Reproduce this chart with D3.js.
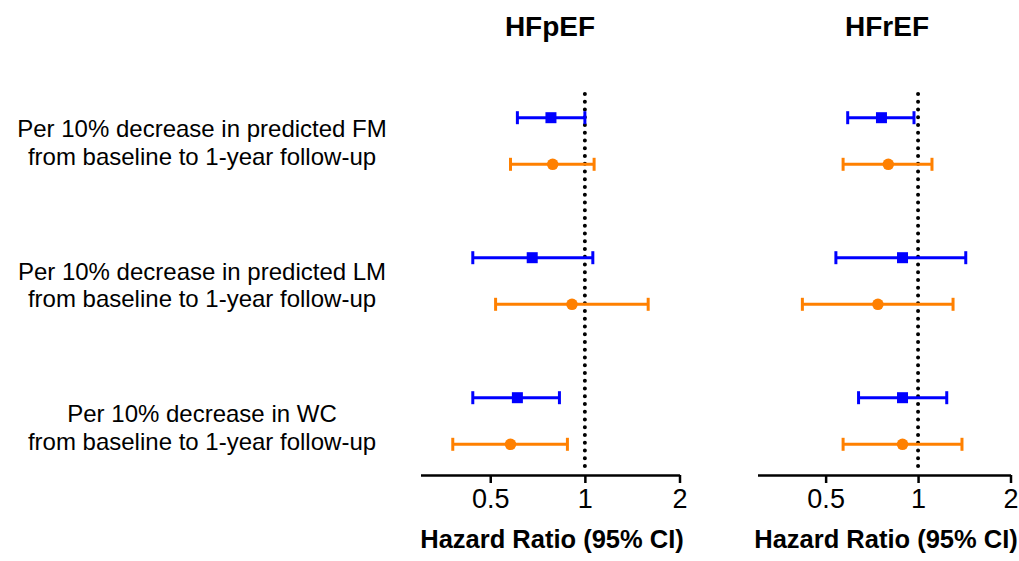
<!DOCTYPE html>
<html>
<head>
<meta charset="utf-8">
<script src="https://cdn.jsdelivr.net/npm/d3@7"></script>
<style>
  html, body { margin: 0; padding: 0; background: #fff; }
  svg { display: block; font-family: "Liberation Sans", Arial, Helvetica, sans-serif; }
</style>
</head>
<body>
<svg id="chart" width="1019" height="561"></svg>
<script>
// ---- data ----
const panels = ["HFpEF", "HFrEF"];
const rows = ["FM", "LM", "WC"];
const rowLabels = [
  ["Per 10% decrease in predicted FM", "from baseline to 1-year follow-up"],
  ["Per 10% decrease in predicted LM", "from baseline to 1-year follow-up"],
  ["Per 10% decrease in WC", "from baseline to 1-year follow-up"]
];
const series = ["blue", "orange"];
// HFpEF: [point, low, high] per row
const hfpefBlue   = [[0.78, 0.61, 1.00], [0.68, 0.44, 1.06], [0.61, 0.44, 0.83]];
const hfpefOrange = [[0.79, 0.58, 1.07], [0.91, 0.52, 1.59], [0.58, 0.38, 0.88]];
// HFrEF
const hfrefBlue   = [[0.76, 0.59, 0.97], [0.89, 0.54, 1.43], [0.89, 0.64, 1.24]];
const hfrefOrange = [[0.80, 0.57, 1.11], [0.74, 0.42, 1.30], [0.89, 0.57, 1.39]];
const tickValues = [0.5, 1, 2];
const tickLabels = ["0.5", "1", "2"];
const xDomain = [0.3, 2];
const refValue = 1;
const axisTitle = "Hazard Ratio (95% CI)";

// ---- layout ----
const svg = d3.select("#chart");
const colors = { blue: "#0000ff", orange: "#ff8000" };
const panelRanges = [[420.5, 679.5], [757.5, 1010.5]];
const axisY = 475;
const y = d3.scalePoint().domain(rows).range([141, 421]);
const sub = d3.scalePoint().domain(series).range([-23.3, 23.3]);
const labelY = d3.scalePoint().domain(rows).range([137, 422]);

// Row labels
rows.forEach((r, i) => {
  const t = svg.append("text")
    .attr("x", 202)
    .attr("text-anchor", "middle")
    .attr("font-size", 24)
    .attr("fill", "#000");
  rowLabels[i].forEach((line, j) => {
    t.append("tspan").attr("x", 202).attr("y", labelY(r) + j * 27.5).text(line);
  });
});

const panelData = [
  { blue: hfpefBlue, orange: hfpefOrange },
  { blue: hfrefBlue, orange: hfrefOrange }
];

panels.forEach((p, pi) => {
  const x = d3.scaleLog().domain(xDomain).range(panelRanges[pi]);
  const g = svg.append("g");

  // title
  g.append("text")
    .attr("x", (panelRanges[pi][0] + panelRanges[pi][1]) / 2 + (pi === 1 ? 3 : 0))
    .attr("y", 36)
    .attr("text-anchor", "middle")
    .attr("font-size", 28)
    .attr("font-weight", "bold")
    .text(p);

  // reference dotted line
  g.append("line")
    .attr("x1", x(refValue)).attr("x2", x(refValue))
    .attr("y1", 94).attr("y2", axisY - 3)
    .attr("stroke", "#000")
    .attr("stroke-width", 4)
    .attr("stroke-linecap", "round")
    .attr("stroke-dasharray", "0,7.75");

  // axis
  const axis = d3.axisBottom(x)
    .tickValues(tickValues)
    .tickFormat((d, i) => tickLabels[i])
    .tickSize(8)
    .tickSizeOuter(0)
    .tickPadding(6);
  const ag = g.append("g").attr("transform", `translate(0,${axisY})`).call(axis);
  ag.select(".domain").attr("stroke", "#000").attr("stroke-width", 2.5);
  ag.selectAll(".tick line").attr("stroke", "#000").attr("stroke-width", 2.5);
  ag.selectAll(".tick text")
    .attr("font-size", 27)
    .attr("fill", "#000")
    .attr("font-family", "'Liberation Sans', Arial, sans-serif");

  // axis title
  g.append("text")
    .attr("x", (panelRanges[pi][0] + panelRanges[pi][1]) / 2 + 2)
    .attr("y", 548)
    .attr("text-anchor", "middle")
    .attr("font-size", 25.5)
    .attr("font-weight", "bold")
    .text(axisTitle);

  // error bars
  series.forEach(s => {
    const vals = panelData[pi][s];
    vals.forEach((v, ri) => {
      const cy = y(rows[ri]) + sub(s);
      const [pt, lo, hi] = v;
      const eg = g.append("g");
      eg.append("line")
        .attr("x1", x(lo)).attr("x2", x(hi))
        .attr("y1", cy).attr("y2", cy)
        .attr("stroke", colors[s]).attr("stroke-width", 3);
      [lo, hi].forEach(e => {
        eg.append("line")
          .attr("x1", x(e)).attr("x2", x(e))
          .attr("y1", cy - 6.5).attr("y2", cy + 6.5)
          .attr("stroke", colors[s]).attr("stroke-width", 3);
      });
      if (s === "blue") {
        eg.append("rect")
          .attr("x", x(pt) - 5.5).attr("y", cy - 5.5)
          .attr("width", 11).attr("height", 11)
          .attr("fill", colors[s]);
      } else {
        eg.append("circle")
          .attr("cx", x(pt)).attr("cy", cy).attr("r", 5.8)
          .attr("fill", colors[s]);
      }
    });
  });
});
</script>
</body>
</html>
